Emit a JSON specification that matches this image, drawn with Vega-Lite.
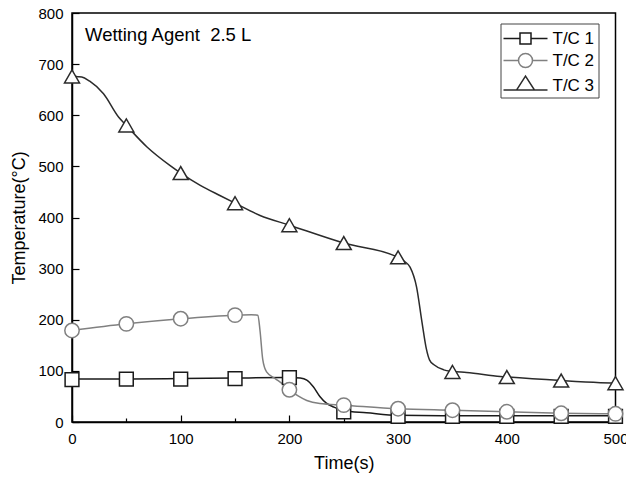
{
  "$schema": "https://vega.github.io/schema/vega-lite/v6.json",
  "width": 543.5,
  "height": 409,
  "autosize": "none",
  "padding": {"left": 72, "top": 13, "right": 10.5, "bottom": 59},
  "background": "white",
  "config": {
    "view": {"stroke": "black", "strokeWidth": 1.5},
    "axis": {
      "grid": false,
      "domainColor": "black",
      "domainWidth": 1.5,
      "tickColor": "black",
      "tickWidth": 1.2,
      "labelFont": "Liberation Sans",
      "labelFontSize": 15,
      "labelColor": "black",
      "titleFont": "Liberation Sans",
      "titleFontSize": 18,
      "titleFontWeight": "normal",
      "titleColor": "black"
    },
    "legend": {
      "orient": "none",
      "legendX": 428.5,
      "legendY": 10.5,
      "strokeColor": "#444444",
      "padding": 4,
      "symbolSize": 400,
      "symbolStrokeWidth": 1.5,
      "symbolOffset": 10,
      "labelFont": "Liberation Sans",
      "labelFontSize": 17,
      "labelColor": "black",
      "labelOffset": 16,
      "rowPadding": 2,
      "title": null
    }
  },
  "datasets": {
    "curve": [
      {"series": "T/C 1", "t": 0, "temp": 84},
      {"series": "T/C 1", "t": 50, "temp": 84},
      {"series": "T/C 1", "t": 100, "temp": 85},
      {"series": "T/C 1", "t": 150, "temp": 86},
      {"series": "T/C 1", "t": 200, "temp": 87},
      {"series": "T/C 1", "t": 210, "temp": 86},
      {"series": "T/C 1", "t": 216, "temp": 82},
      {"series": "T/C 1", "t": 222, "temp": 69},
      {"series": "T/C 1", "t": 228, "temp": 50},
      {"series": "T/C 1", "t": 234, "temp": 37},
      {"series": "T/C 1", "t": 241, "temp": 29},
      {"series": "T/C 1", "t": 250, "temp": 22},
      {"series": "T/C 1", "t": 271, "temp": 18},
      {"series": "T/C 1", "t": 300, "temp": 13},
      {"series": "T/C 1", "t": 350, "temp": 12},
      {"series": "T/C 1", "t": 400, "temp": 12},
      {"series": "T/C 1", "t": 450, "temp": 12},
      {"series": "T/C 1", "t": 500, "temp": 12},
      {"series": "T/C 2", "t": 0, "temp": 179},
      {"series": "T/C 2", "t": 50, "temp": 192},
      {"series": "T/C 2", "t": 100, "temp": 202},
      {"series": "T/C 2", "t": 150, "temp": 209},
      {"series": "T/C 2", "t": 165, "temp": 210},
      {"series": "T/C 2", "t": 171, "temp": 209},
      {"series": "T/C 2", "t": 173, "temp": 178},
      {"series": "T/C 2", "t": 175.5, "temp": 122},
      {"series": "T/C 2", "t": 179, "temp": 98},
      {"series": "T/C 2", "t": 187, "temp": 85},
      {"series": "T/C 2", "t": 195, "temp": 72},
      {"series": "T/C 2", "t": 200, "temp": 63},
      {"series": "T/C 2", "t": 208, "temp": 51},
      {"series": "T/C 2", "t": 216, "temp": 42},
      {"series": "T/C 2", "t": 228, "temp": 36},
      {"series": "T/C 2", "t": 250, "temp": 33},
      {"series": "T/C 2", "t": 300, "temp": 26},
      {"series": "T/C 2", "t": 350, "temp": 23},
      {"series": "T/C 2", "t": 400, "temp": 20},
      {"series": "T/C 2", "t": 450, "temp": 17},
      {"series": "T/C 2", "t": 500, "temp": 16},
      {"series": "T/C 3", "t": 0, "temp": 680},
      {"series": "T/C 3", "t": 4, "temp": 676},
      {"series": "T/C 3", "t": 9, "temp": 675},
      {"series": "T/C 3", "t": 16, "temp": 667},
      {"series": "T/C 3", "t": 29, "temp": 642},
      {"series": "T/C 3", "t": 43, "temp": 596},
      {"series": "T/C 3", "t": 50, "temp": 580},
      {"series": "T/C 3", "t": 69, "temp": 538},
      {"series": "T/C 3", "t": 90, "temp": 502},
      {"series": "T/C 3", "t": 100, "temp": 487},
      {"series": "T/C 3", "t": 118, "temp": 463},
      {"series": "T/C 3", "t": 136, "temp": 443},
      {"series": "T/C 3", "t": 150, "temp": 428},
      {"series": "T/C 3", "t": 173, "temp": 404},
      {"series": "T/C 3", "t": 200, "temp": 385},
      {"series": "T/C 3", "t": 250, "temp": 350},
      {"series": "T/C 3", "t": 300, "temp": 322},
      {"series": "T/C 3", "t": 306, "temp": 314},
      {"series": "T/C 3", "t": 311, "temp": 303},
      {"series": "T/C 3", "t": 317, "temp": 264},
      {"series": "T/C 3", "t": 322, "temp": 195},
      {"series": "T/C 3", "t": 326, "temp": 143},
      {"series": "T/C 3", "t": 329, "temp": 121},
      {"series": "T/C 3", "t": 333, "temp": 112},
      {"series": "T/C 3", "t": 342, "temp": 102},
      {"series": "T/C 3", "t": 350, "temp": 99},
      {"series": "T/C 3", "t": 363, "temp": 97},
      {"series": "T/C 3", "t": 394, "temp": 89},
      {"series": "T/C 3", "t": 400, "temp": 88},
      {"series": "T/C 3", "t": 450, "temp": 81},
      {"series": "T/C 3", "t": 486, "temp": 77},
      {"series": "T/C 3", "t": 500, "temp": 76}
    ],
    "points": [
      {"series": "T/C 1", "t": 0, "temp": 83},
      {"series": "T/C 1", "t": 50, "temp": 84},
      {"series": "T/C 1", "t": 100, "temp": 84},
      {"series": "T/C 1", "t": 150, "temp": 85},
      {"series": "T/C 1", "t": 200, "temp": 87},
      {"series": "T/C 1", "t": 250, "temp": 20},
      {"series": "T/C 1", "t": 300, "temp": 11},
      {"series": "T/C 1", "t": 350, "temp": 11},
      {"series": "T/C 1", "t": 400, "temp": 11},
      {"series": "T/C 1", "t": 450, "temp": 11},
      {"series": "T/C 1", "t": 500, "temp": 11},
      {"series": "T/C 2", "t": 0, "temp": 179},
      {"series": "T/C 2", "t": 50, "temp": 192},
      {"series": "T/C 2", "t": 100, "temp": 202},
      {"series": "T/C 2", "t": 150, "temp": 209},
      {"series": "T/C 2", "t": 200, "temp": 63},
      {"series": "T/C 2", "t": 250, "temp": 33},
      {"series": "T/C 2", "t": 300, "temp": 26},
      {"series": "T/C 2", "t": 350, "temp": 23},
      {"series": "T/C 2", "t": 400, "temp": 20},
      {"series": "T/C 2", "t": 450, "temp": 17},
      {"series": "T/C 2", "t": 500, "temp": 16},
      {"series": "T/C 3", "t": 0, "temp": 676},
      {"series": "T/C 3", "t": 50, "temp": 580},
      {"series": "T/C 3", "t": 100, "temp": 487},
      {"series": "T/C 3", "t": 150, "temp": 428},
      {"series": "T/C 3", "t": 200, "temp": 385},
      {"series": "T/C 3", "t": 250, "temp": 350},
      {"series": "T/C 3", "t": 300, "temp": 322},
      {"series": "T/C 3", "t": 350, "temp": 98},
      {"series": "T/C 3", "t": 400, "temp": 88},
      {"series": "T/C 3", "t": 450, "temp": 81},
      {"series": "T/C 3", "t": 500, "temp": 76}
    ]
  },
  "layer": [
    {
      "data": {"name": "curve"},
      "mark": {"type": "line", "interpolate": "monotone", "strokeWidth": 1.5},
      "encoding": {
        "x": {
          "field": "t",
          "type": "quantitative",
          "scale": {"domain": [0, 500], "nice": false, "zero": false},
          "axis": {
            "title": "Time(s)",
            "values": [0, 50, 100, 150, 200, 250, 300, 350, 400, 450, 500],
            "labelExpr": "datum.value % 100 === 0 ? datum.label : ''",
            "tickSize": {"condition": {"test": "datum.value % 100 === 0", "value": -7}, "value": -4},
            "labelPadding": 16,
            "titlePadding": 8,
            "labelFlush": false
          }
        },
        "y": {
          "field": "temp",
          "type": "quantitative",
          "scale": {"domain": [0, 800], "nice": false},
          "axis": {
            "title": "Temperature(°C)",
            "values": [0, 50, 100, 150, 200, 250, 300, 350, 400, 450, 500, 550, 600, 650, 700, 750, 800],
            "labelExpr": "datum.value % 100 === 0 ? datum.label : ''",
            "tickSize": {"condition": {"test": "datum.value % 100 === 0", "value": -7}, "value": -4},
            "labelPadding": 16,
            "titlePadding": 9,
            "labelFlush": false
          }
        },
        "color": {
          "field": "series",
          "type": "nominal",
          "scale": {"domain": ["T/C 1", "T/C 2", "T/C 3"], "range": ["#1a1a1a", "#808080", "#2b2b2b"]},
          "legend": null
        }
      }
    },
    {
      "data": {"name": "points"},
      "mark": {"type": "point", "fill": "white", "strokeWidth": 1.5, "opacity": 1},
      "encoding": {
        "x": {"field": "t", "type": "quantitative"},
        "y": {"field": "temp", "type": "quantitative"},
        "shape": {
          "field": "series",
          "type": "nominal",
          "scale": {"domain": ["T/C 1", "T/C 2", "T/C 3"], "range": ["square", "circle", "triangle-up"]},
          "legend": null
        },
        "stroke": {
          "field": "series",
          "type": "nominal",
          "scale": {"domain": ["T/C 1", "T/C 2", "T/C 3"], "range": ["#1a1a1a", "#808080", "#2b2b2b"]},
          "legend": null
        },
        "size": {
          "field": "series",
          "type": "nominal",
          "scale": {"domain": ["T/C 1", "T/C 2", "T/C 3"], "range": [190, 225, 330]},
          "legend": null
        }
      }
    },
    {
      "data": {"name": "points"},
      "transform": [{"filter": "datum.t < -1000"}],
      "mark": {"type": "point", "fill": "white", "strokeWidth": 1.5, "opacity": 1},
      "encoding": {
        "x": {"field": "t", "type": "quantitative"},
        "y": {"field": "temp", "type": "quantitative"},
        "shape": {
          "field": "series",
          "type": "nominal",
          "scale": {
            "domain": ["T/C 1", "T/C 2", "T/C 3"],
            "range": [
              "M-2.2,0H-0.55M0.55,0H2.2M-0.55,-0.55H0.55V0.55H-0.55Z",
              "M-2.2,0H-0.7M0.7,0H2.2M0.7,0A0.7,0.7,0,1,1,-0.7,0A0.7,0.7,0,1,1,0.7,0Z",
              "M-2.2,0.46H-0.9M0.9,0.46H2.2M-0.9,0.46L0,-0.94L0.9,0.46Z"
            ]
          },
          "legend": {}
        },
        "stroke": {
          "field": "series",
          "type": "nominal",
          "scale": {"domain": ["T/C 1", "T/C 2", "T/C 3"], "range": ["#1a1a1a", "#808080", "#2b2b2b"]},
          "legend": {}
        }
      }
    },
    {
      "data": {"values": [{"label": "Wetting Agent\u00a0 2.5 L", "t": 12, "temp": 746}]},
      "mark": {"type": "text", "align": "left", "baseline": "alphabetic", "font": "Liberation Sans", "fontSize": 18.5, "fill": "black"},
      "encoding": {
        "x": {"field": "t", "type": "quantitative"},
        "y": {"field": "temp", "type": "quantitative"},
        "text": {"field": "label", "type": "nominal"}
      }
    }
  ],
  "resolve": {"scale": {"shape": "independent", "stroke": "independent", "color": "independent", "size": "independent"}}
}
